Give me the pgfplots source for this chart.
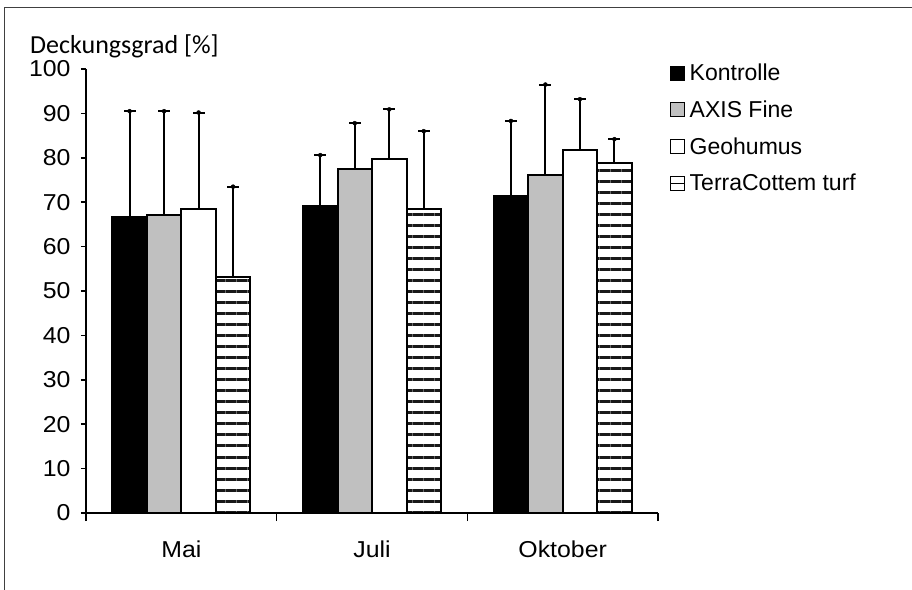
\documentclass[border=0pt]{standalone}
\usepackage{fontspec}
\setmainfont{Liberation Sans}
\newfontfamily\calfont{Carlito}
\usepackage{graphicx}
\usepackage{pgfplots}
\pgfplotsset{compat=1.18}
\usetikzlibrary{patterns.meta}
\definecolor{barGray}{RGB}{192,192,192}
\newcommand\sx[1]{\scalebox{1.08}[1]{#1}}
\pgfplotsset{
  mybar/.style={ybar, bar width=34.5pt, bar shift=#1, draw=black, line width=2pt,
    legend image code/.code={\draw[##1, line width=1pt] (0pt,-7pt) rectangle (14pt,7pt); \path (16pt,0pt);}},
  % error bar: from mean up to mean+sd, with a horizontal cap (x error of +-6pt = 0.0315 units)
  mycap/.style={only marks, mark=none, forget plot,
    error bars/x dir=both, error bars/x fixed=0.0315,
    error bars/y dir=minus, error bars/y explicit, error bars/error mark=none,
    error bars/error bar style={solid, line width=2pt, draw=black}},
}
\begin{document}
\begin{tikzpicture}
\path[use as bounding box] (-86pt,-76pt) rectangle (826pt,513pt);
\draw[line width=1pt, black!75] (-81pt,-90pt) -- (-81pt,505pt) -- (840pt,505pt);
\begin{axis}[
  at={(0pt,0pt)}, anchor=south west,
  scale only axis, width=572pt, height=444pt,
  xmin=-0.5, xmax=2.5, ymin=0, ymax=100,
  axis lines=left, axis line style={-, line width=1.5pt},
  tick align=outside,
  major tick style={line width=1.5pt, black},
  major tick length=5pt,
  ytick={0,10,...,100},
  yticklabel={\sx{\pgfmathprintnumber{\tick}}},
  xtick={0,1,2}, xticklabels={\sx{Mai},\sx{Juli},\sx{Oktober}},
  x tick style={draw=none},
  extra x ticks={-0.5,0.5,1.5,2.5}, extra x tick labels={},
  extra x tick style={major tick length=8pt, x tick style={draw=black}},
  /pgf/number format/assume math mode=true,
  ticklabel style={font=\fontsize{23}{27}\selectfont},
  yticklabel style={xshift=-7pt},
  xticklabel style={anchor=base, yshift=-39pt},
  legend style={at={(584pt,451pt)}, anchor=north west, draw=none, fill=none,
     font=\fontsize{23}{27}\selectfont, row sep=14.5pt,
     legend cell align=left, inner sep=0pt},
]
\addplot[mybar=-51.75pt, fill=black] coordinates {(0,66.7) (1,69.1) (2,71.3)};
\addlegendentry{Kontrolle}
\addplot[mybar=-17.25pt, fill=barGray] coordinates {(0,67.2) (1,77.5) (2,76.1)};
\addlegendentry{AXIS Fine}
\addplot[mybar=17.25pt, fill=white] coordinates {(0,68.5) (1,79.8) (2,81.7)};
\addlegendentry{Geohumus}
\addplot[mybar=51.75pt, fill=white,
  legend image code/.code={\draw[line width=1pt, draw=black, fill=white] (0pt,-7pt) rectangle (14pt,7pt); \draw[line width=1pt, draw=black] (0pt,0pt) -- (14pt,0pt); \path (16pt,0pt);}] coordinates {(0,53.2) (1,68.5) (2,78.8)};
\addlegendentry{TerraCottem turf}
\addplot[mybar=51.75pt, forget plot, pattern={Lines[angle=0,distance=11pt,line width=3pt]}, pattern color=black!90] coordinates {(0,53.2) (1,68.5) (2,78.8)};
% error bars: top = mean + sd, drawn down to the mean; x shifted by bar offset (34.5pt = 0.1809 units)
\addplot[mycap] coordinates {(-0.2714,90.5) +- (0,23.8) (0.7286,80.6) +- (0,11.5) (1.7286,88.3) +- (0,17.0)};
\addplot[mycap] coordinates {(-0.0905,90.5) +- (0,23.3) (0.9095,87.8) +- (0,10.3) (1.9095,96.5) +- (0,20.4)};
\addplot[mycap] coordinates {(0.0905,90.2) +- (0,21.7) (1.0905,90.9) +- (0,11.1) (2.0905,93.2) +- (0,11.5)};
\addplot[mycap] coordinates {(0.2714,73.5) +- (0,20.3) (1.2714,86.0) +- (0,17.5) (2.2714,84.2) +- (0,5.4)};
\end{axis}
\node[anchor=base west, font=\calfont\fontsize{26}{30}\selectfont, inner sep=0pt] at (-56pt,459pt) {Deckungsgrad [\%]};
\end{tikzpicture}
\end{document}
